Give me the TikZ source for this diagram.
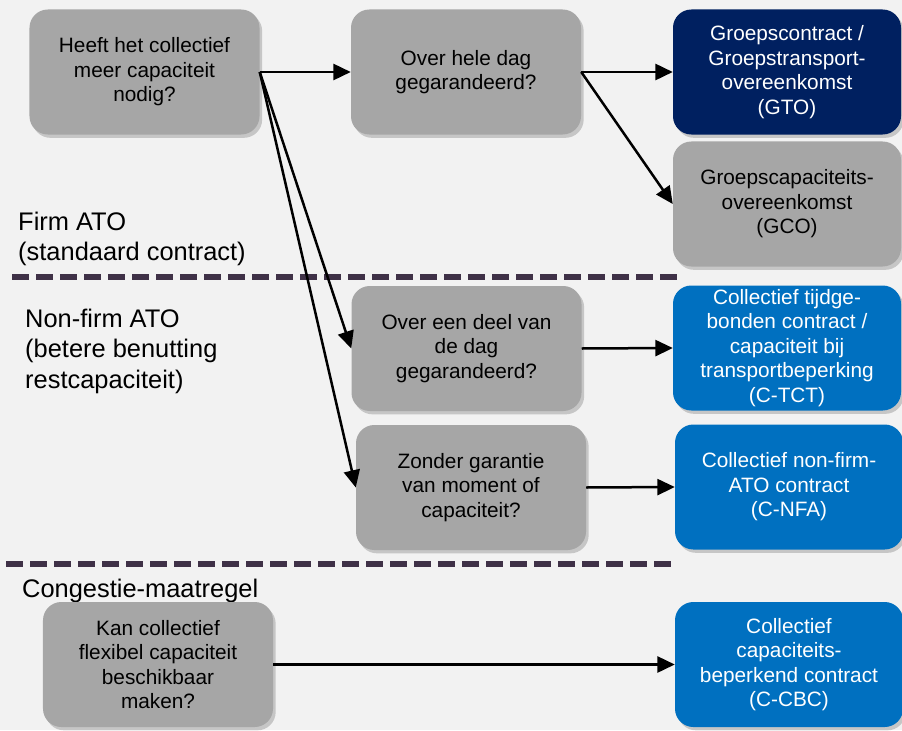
\documentclass[tikz,border=0pt]{standalone}
\usepackage{fontspec}
\setmainfont{Liberation Sans}
\usetikzlibrary{arrows.meta,shadows}
\definecolor{Canvas}{HTML}{F2F2F2}
\definecolor{BoxGray}{HTML}{A6A6A6}
\definecolor{Navy}{HTML}{002060}
\definecolor{Blue}{HTML}{0070C0}
\definecolor{Plum}{HTML}{3F3147}

\begin{document}
\begin{tikzpicture}[
  x=0.03cm, y=-0.03cm,
  every node/.style={align=center},
  qbox/.style={rounded corners=0.55cm, minimum width=6.9cm, minimum height=3.75cm, inner sep=2pt, fill=BoxGray, text=black, font=\fontsize{17.75}{20.9}\selectfont, drop shadow={shadow xshift=0.08cm, shadow yshift=-0.1cm, opacity=0.18, fill=black}},
  cbox/.style={qbox, minimum width=6.84cm},
  lbl/.style={align=left, inner sep=0pt, font=\fontsize{21.7}{26}\selectfont},
  sepline/.style={Plum, line width=0.18cm, dash pattern=on 0.52cm off 0.2cm},
  arr/.style={-{Triangle[length=0.52cm, width=0.48cm]}, line width=0.075cm, black}
]
\useasboundingbox[fill=Canvas] (0,0) rectangle (902,730);

% Firm ATO
\node[qbox] (qmore) at (144.5,72) {Heeft het collectief\\meer capaciteit\\nodig?};
\node[qbox] (qfull) at (466,72) {Over hele dag\\gegarandeerd?};
\node[cbox, fill=Navy, text=white] (gto) at (787,72) {Groepscontract /\\Groepstransport-\\overeenkomst\\(GTO)};
\node[cbox] (gco) at (787,204) {Groepscapaciteits-\\overeenkomst\\(GCO)};
\node[lbl, anchor=west] (lfirm) at (18,239) {Firm ATO\\(standaard contract)};

% Non-firm ATO
\node[qbox] (qpart) at (466.5,348.5) {Over een deel van\\de dag\\gegarandeerd?};
\node[cbox, fill=Blue, text=white] (ctct) at (787,348) {Collectief tijdge-\\bonden contract /\\capaciteit bij\\transportbeperking\\(C-TCT)};
\node[qbox] (qnone) at (471,487.5) {Zonder garantie\\van moment of\\capaciteit?};
\node[cbox, fill=Blue, text=white] (cnfa) at (789,487) {Collectief non-firm-\\ATO contract\\(C-NFA)};
\node[lbl, anchor=west] (lnonfirm) at (25,351) {Non-firm ATO\\(betere benutting\\restcapaciteit)};

% Congestie
\node[lbl, anchor=base west] (lcong) at (22,597) {Congestie-maatregel};
\node[qbox] (qflex) at (158,664.5) {Kan collectief\\flexibel capaciteit\\beschikbaar\\maken?};
\node[cbox, fill=Blue, text=white] (ccbc) at (789,664.5) {Collectief\\capaciteits-\\beperkend contract\\(C-CBC)};

% Separators
\draw[sepline] (12,277) -- (677,277);
\draw[sepline] (6,564) -- (671,564);

% Arrows
\draw[arr] (qmore.east) -- (qfull.west);
\draw[arr] (qmore.east) -- (qpart.west);
\draw[arr] (qmore.east) -- (qnone.west);
\draw[arr] (qfull.east) -- (gto.west);
\draw[arr] (qfull.east) -- (gco.west);
\draw[arr] (qpart.east) -- (ctct.west);
\draw[arr] (qnone.east) -- (cnfa.west);
\draw[arr] (qflex.east) -- (ccbc.west);
\end{tikzpicture}
\end{document}
